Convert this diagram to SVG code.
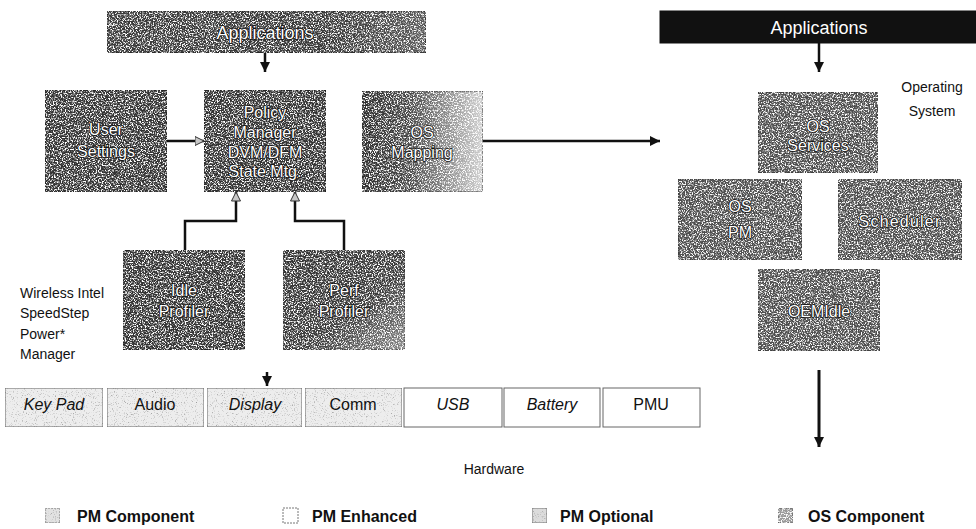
<svg xmlns="http://www.w3.org/2000/svg" width="976" height="529" viewBox="0 0 976 529">
<defs>
<filter id="speck" x="0" y="0" width="100%" height="100%" color-interpolation-filters="sRGB">
<feTurbulence type="fractalNoise" baseFrequency="0.75" numOctaves="2" seed="7" result="t"/>
<feColorMatrix in="t" type="matrix" values="0 0 0 0 1 0 0 0 0 1 0 0 0 0 1 4.5 0 0 0 -2.05" result="w"/>
<feComposite in="w" in2="SourceGraphic" operator="in" result="wc"/>
<feMerge><feMergeNode in="SourceGraphic"/><feMergeNode in="wc"/></feMerge>
</filter>
<filter id="speckLight" x="0" y="0" width="100%" height="100%" color-interpolation-filters="sRGB">
<feTurbulence type="fractalNoise" baseFrequency="0.9" numOctaves="2" seed="3" result="t"/>
<feColorMatrix in="t" type="matrix" values="0 0 0 0 0.45 0 0 0 0 0.45 0 0 0 0 0.45 2 0 0 0 -1.15" result="w"/>
<feComposite in="w" in2="SourceGraphic" operator="in" result="wc"/>
<feMerge><feMergeNode in="SourceGraphic"/><feMergeNode in="wc"/></feMerge>
</filter>
<linearGradient id="mapGrad" x1="0" y1="0" x2="1" y2="0">
<stop offset="0" stop-color="#2e2e2e"/>
<stop offset="0.4" stop-color="#4a4a4a"/>
<stop offset="1" stop-color="#d0d0d0"/>
</linearGradient>
<linearGradient id="perfGrad" x1="0" y1="0" x2="1" y2="1">
<stop offset="0" stop-color="#333"/>
<stop offset="0.6" stop-color="#3c3c3c"/>
<stop offset="1" stop-color="#8a8a8a"/>
</linearGradient>
<linearGradient id="appGrad" x1="0" y1="0" x2="1" y2="0">
<stop offset="0" stop-color="#3a3a3a"/>
<stop offset="0.7" stop-color="#383838"/>
<stop offset="1" stop-color="#5a5a5a"/>
</linearGradient>
<marker id="ah" markerUnits="userSpaceOnUse" markerWidth="12" markerHeight="12" refX="10" refY="5" orient="auto">
<path d="M0,0 L10,5 L0,10 z" fill="#111"/>
</marker>
<marker id="ahOpen" markerUnits="userSpaceOnUse" markerWidth="12" markerHeight="12" refX="9.5" refY="5" orient="auto">
<path d="M0.5,0.5 L9.5,5 L0.5,9.5 z" fill="#c8c8c8" stroke="#333" stroke-width="1"/>
</marker>
<style>
.dark{fill:#333;stroke:#1a1a1a;stroke-width:1;filter:url(#speck)}
.os{fill:#4e4e4e;stroke:#333;stroke-width:1;filter:url(#speck)}
.lbl{font-family:"Liberation Sans",Arial,sans-serif;font-size:16px;fill:#fff;stroke:#111;stroke-width:1.6px;paint-order:stroke;text-anchor:middle}
.app{font-size:18px}
.hw{fill:#ededed;stroke:#666;stroke-width:1}
.hwe{fill:#fff;stroke:#666;stroke-width:1}
.hwt{font-family:"Liberation Sans",Arial,sans-serif;font-size:16px;fill:#111;text-anchor:middle}
.plain{font-family:"Liberation Sans",Arial,sans-serif;font-size:14px;fill:#111}
.leg{font-family:"Liberation Sans",Arial,sans-serif;font-size:16px;font-weight:bold;fill:#111}
.ln{fill:none;stroke:#111;stroke-width:2.5}
</style>
</defs>
<rect width="976" height="529" fill="#fff"/>

<g id="apps-left">
<rect x="107" y="11" width="319" height="42" fill="url(#appGrad)" stroke="#1a1a1a" stroke-width="1" filter="url(#speck)"/>
<text x="265" y="39" class="lbl app">Applications</text>
</g>
<g id="apps-right">
<rect x="660" y="11" width="316" height="32" fill="#111" stroke="#111"/>
<text x="819" y="34" class="lbl app" stroke="none">Applications</text>
</g>
<g id="user-settings">
<rect x="45" y="90" width="122" height="102" class="dark"/>
<text x="106" y="135" class="lbl">User</text>
<text x="106" y="157" class="lbl">Settings</text>
</g>
<g id="policy-manager">
<rect x="204" y="90" width="122" height="102" class="dark"/>
<text x="265" y="118" class="lbl">Policy</text>
<text x="265" y="138" class="lbl">Manager</text>
<text x="265" y="158" class="lbl">DVM/DFM</text>
<text x="265" y="177" class="lbl">State Mtg.</text>
</g>
<g id="os-mapping">
<rect x="362" y="91" width="121" height="101" fill="url(#mapGrad)" stroke="#333" stroke-width="1" filter="url(#speck)"/>
<text x="422" y="138" class="lbl">OS</text>
<text x="422" y="158" class="lbl">Mapping</text>
</g>
<g id="idle-profiler">
<rect x="123" y="250" width="122" height="100" class="dark"/>
<text x="184" y="296" class="lbl">Idle</text>
<text x="184" y="317" class="lbl">Profiler</text>
</g>
<g id="perf-profiler">
<rect x="283" y="250" width="122" height="100" fill="url(#perfGrad)" stroke="#333" stroke-width="1" filter="url(#speck)"/>
<text x="344" y="296" class="lbl">Perf</text>
<text x="344" y="317" class="lbl">Profiler</text>
</g>
<g id="wispm-label">
<text x="20" y="298" class="plain">Wireless Intel</text>
<text x="20" y="318" class="plain">SpeedStep</text>
<text x="20" y="339" class="plain">Power*</text>
<text x="20" y="359" class="plain">Manager</text>
</g>
<g id="os-label">
<text x="932" y="92" class="plain" font-size="13" text-anchor="middle">Operating</text>
<text x="932" y="116" class="plain" font-size="13" text-anchor="middle">System</text>
</g>
<g id="os-services">
<rect x="758" y="92" width="120" height="81" class="os"/>
<text x="818" y="132" class="lbl">OS</text>
<text x="818" y="151" class="lbl">Services</text>
</g>
<g id="os-pm">
<rect x="678" y="179" width="124" height="81" class="os"/>
<text x="740" y="212" class="lbl">OS</text>
<text x="740" y="238" class="lbl">PM</text>
</g>
<g id="scheduler">
<rect x="838" y="179" width="124" height="81" class="os"/>
<text x="900" y="227" class="lbl" font-size="18" letter-spacing="1.2">Scheduler</text>
</g>
<g id="oemidle">
<rect x="758" y="269" width="122" height="82" class="os"/>
<text x="819" y="317" class="lbl">OEMIdle</text>
</g>

<g id="hardware">
<g id="hw-keypad"><rect x="5" y="388" width="98" height="39" class="hw" filter="url(#speckLight)"/><text x="54" y="410" class="hwt" font-style="italic">Key Pad</text></g>
<g id="hw-audio"><rect x="107" y="388" width="97" height="39" class="hw" filter="url(#speckLight)"/><text x="155" y="410" class="hwt">Audio</text></g>
<g id="hw-display"><rect x="207" y="388" width="95" height="39" class="hw" filter="url(#speckLight)"/><text x="255" y="410" class="hwt" font-style="italic">Display</text></g>
<g id="hw-comm"><rect x="305" y="388" width="97" height="39" class="hw" filter="url(#speckLight)"/><text x="353" y="410" class="hwt">Comm</text></g>
<g id="hw-usb"><rect x="404" y="388" width="98" height="39" class="hwe"/><text x="453" y="410" class="hwt" font-style="italic" fill="#666">USB</text></g>
<g id="hw-battery"><rect x="504" y="388" width="96" height="39" class="hwe"/><text x="552" y="410" class="hwt" font-style="italic">Battery</text></g>
<g id="hw-pmu"><rect x="603" y="388" width="97" height="39" class="hwe"/><text x="651" y="410" class="hwt">PMU</text></g>
</g>
<g id="hardware-label">
<text x="494" y="474" class="plain" text-anchor="middle">Hardware</text>
</g>

<g id="connectors">
<line x1="265" y1="53" x2="265" y2="72" class="ln" marker-end="url(#ah)"/>
<line x1="819" y1="43" x2="819" y2="72" class="ln" marker-end="url(#ah)"/>
<line x1="167" y1="141" x2="204" y2="141" class="ln" marker-end="url(#ahOpen)"/>
<line x1="483" y1="141" x2="660" y2="141" class="ln" marker-end="url(#ah)"/>
<polyline points="185,250 185,221 236,221 236,192" class="ln" stroke="#2a2a2a" marker-end="url(#ahOpen)"/>
<polyline points="344,250 344,221 295,221 295,192" class="ln" marker-end="url(#ahOpen)"/>
<line x1="267" y1="372" x2="267" y2="386" class="ln" marker-end="url(#ah)"/>
<line x1="819" y1="370" x2="819" y2="447" stroke="#111" stroke-width="3" marker-end="url(#ah)"/>
</g>

<g id="legend">
<g id="leg-pm-component"><rect x="45" y="508" width="15" height="15" fill="#e2e2e2" stroke="#777" stroke-dasharray="2,1" filter="url(#speckLight)"/><text x="77" y="522" class="leg">PM Component</text></g>
<g id="leg-pm-enhanced"><rect x="283" y="508" width="15" height="15" fill="#fff" stroke="#777" stroke-dasharray="2,1"/><text x="312" y="522" class="leg">PM Enhanced</text></g>
<g id="leg-pm-optional"><rect x="532" y="508" width="15" height="15" fill="#dcdcdc" stroke="#777" filter="url(#speckLight)"/><text x="560" y="522" class="leg">PM Optional</text></g>
<g id="leg-os-component"><rect x="778" y="508" width="15" height="15" fill="#9a9a9a" stroke="#555" filter="url(#speck)"/><text x="808" y="522" class="leg">OS Component</text></g>
</g>
</svg>
